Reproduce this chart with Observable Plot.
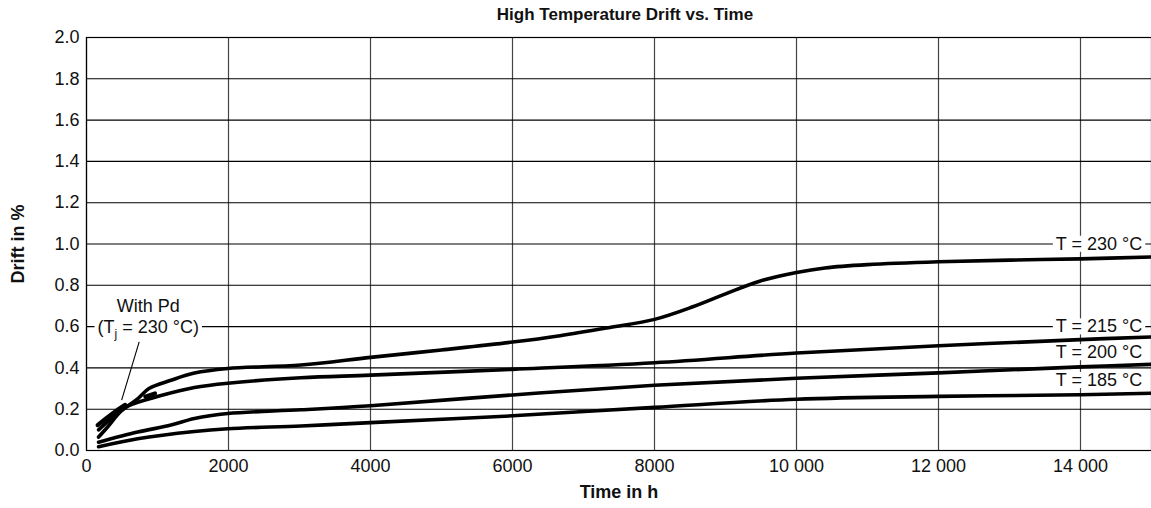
<!DOCTYPE html>
<html>
<head>
<meta charset="utf-8">
<script src="https://cdn.jsdelivr.net/npm/d3@7"></script>
<script src="https://cdn.jsdelivr.net/npm/@observablehq/plot@0.6"></script>
<style>
  html, body { margin: 0; padding: 0; background: #fff; }
  #chart svg { display: block; }
</style>
</head>
<body>
<div id="chart"></div>
<script>
// ---- data ----
const t230 = [170, 300, 485, 720, 880, 1190, 1520, 1990, 3020, 4000, 5000, 6000, 6670, 7370, 8000, 8540, 9010, 9480, 10000, 10400, 11000, 12000, 13000, 14000, 15000];
const d230 = [0.065, 0.115, 0.19, 0.25, 0.30, 0.34, 0.375, 0.397, 0.414, 0.451, 0.487, 0.525, 0.556, 0.596, 0.635, 0.696, 0.76, 0.82, 0.862, 0.884, 0.9, 0.914, 0.922, 0.928, 0.937];

const t215 = [170, 400, 580, 1050, 1520, 1990, 3020, 4000, 6000, 8000, 10000, 12000, 14000, 15000];
const d215 = [0.10, 0.17, 0.215, 0.266, 0.305, 0.326, 0.352, 0.365, 0.393, 0.425, 0.472, 0.507, 0.537, 0.55];

const t200 = [170, 720, 1190, 1520, 1990, 3020, 4000, 6000, 8000, 10000, 12000, 14000, 15000];
const d200 = [0.04, 0.089, 0.123, 0.155, 0.179, 0.197, 0.217, 0.269, 0.316, 0.35, 0.376, 0.405, 0.417];

const t185 = [170, 720, 1520, 1990, 3020, 4000, 6000, 8000, 10000, 12000, 14000, 15000];
const d185 = [0.018, 0.057, 0.092, 0.105, 0.119, 0.135, 0.168, 0.209, 0.248, 0.262, 0.27, 0.277];

const tPd = [157, 579, 836, 1000];
const dPd = [0.123, 0.228, 0.262, 0.28];

const xTicks = [0, 2000, 4000, 6000, 8000, 10000, 12000, 14000];
const yTicks = [0, 0.2, 0.4, 0.6, 0.8, 1.0, 1.2, 1.4, 1.6, 1.8, 2.0];

const curveLabels = ["T = 230 °C", "T = 215 °C", "T = 200 °C", "T = 185 °C"];
const curveLabelY = [1.0, 0.6, 0.475, 0.34];
const curveLabelX = 14870;

const pdNoteText = ["With Pd", "(Tj = 230 °C)"];
const pdNoteX = [870, 870];
const pdNoteY = [0.70, 0.595];
const pdLeader = [{x1: 742, y1: 0.526, x2: 495, y2: 0.244}];

const titleText = "High Temperature Drift vs. Time";
const xLabel = "Time in h";
const yLabel = "Drift in %";

// ---- build rows ----
const mk = (ts, ds, s) => ts.map((t, i) => ({t, d: ds[i], s}));
const series = [
  ...mk(t230, d230, "230"),
  ...mk(t215, d215, "215"),
  ...mk(t200, d200, "200"),
  ...mk(t185, d185, "185")
];
const pdRows = mk(tPd, dPd, "pd");
const labelRows = curveLabels.map((text, i) => ({text, t: curveLabelX, d: curveLabelY[i]}));
const noteRows = pdNoteText.map((text, i) => ({text, t: pdNoteX[i], d: pdNoteY[i]}));

const fmtX = d => d >= 10000 ? d3.format(",")(d).replace(/,/g, " ") : String(d);
const FONT = "Liberation Sans, Arial, Helvetica, sans-serif";

const chart = Plot.plot({
  width: 1151,
  height: 508,
  marginTop: 37,
  marginBottom: 58,
  marginLeft: 86,
  marginRight: 0,
  style: {fontFamily: FONT, fontSize: "18px", color: "#111", background: "#fff"},
  x: {domain: [0, 15000], ticks: xTicks, tickFormat: fmtX, tickSize: 0, tickPadding: 9, label: null},
  y: {domain: [0, 2.0], ticks: yTicks, tickFormat: d3.format(".1f"), tickSize: 0, tickPadding: 7, label: null},
  marks: [
    Plot.gridX(xTicks, {stroke: "#444", strokeOpacity: 1, strokeWidth: 1.2}),
    Plot.gridY(yTicks, {stroke: "#000", strokeOpacity: 1, strokeWidth: 1.1}),
    Plot.frame({stroke: "#000", strokeWidth: 1.2}),
    Plot.axisX({ticks: xTicks, tickFormat: fmtX, tickSize: 0, tickPadding: 9, fontSize: 18, label: null}),
    Plot.axisY({ticks: yTicks, tickFormat: d3.format(".1f"), tickSize: 0, tickPadding: 7, fontSize: 18, label: null}),
    Plot.text(labelRows, {x: "t", y: "d", text: "text", textAnchor: "end", fontSize: 18, fill: "#111"}),
    Plot.text(noteRows, {x: "t", y: "d", text: "text", fontSize: 18, fill: "#111"}),
    Plot.link(pdLeader, {x1: "x1", y1: "y1", x2: "x2", y2: "y2", stroke: "#000", strokeWidth: 1.1}),
    Plot.line(series, {x: "t", y: "d", z: "s", stroke: "#000", strokeWidth: 3.6, curve: "catmull-rom"}),
    Plot.line(pdRows, {x: "t", y: "d", stroke: "#000", strokeWidth: 4.2, curve: "catmull-rom", strokeDasharray: "34,22,10,1000", strokeLinecap: "round"}),
    Plot.text([titleText], {frameAnchor: "top", lineAnchor: "middle", dy: -23, dx: 6, fontSize: 17, fontWeight: "bold", fill: "#111"}),
    Plot.text([xLabel], {frameAnchor: "bottom", lineAnchor: "middle", dy: 42, fontSize: 18, fontWeight: "bold", fill: "#111"}),
    Plot.text([yLabel], {frameAnchor: "left", textAnchor: "middle", lineAnchor: "middle", dx: -68, rotate: -90, fontSize: 18, fontWeight: "bold", fill: "#111"})
  ]
});

document.getElementById("chart").append(chart);

const ns = "http://www.w3.org/2000/svg";
const boxTexts = new Set([...curveLabels, ...pdNoteText]);
chart.querySelectorAll("text").forEach(el => {
  if (!boxTexts.has(el.textContent)) return;
  // subscript j in "(Tj = 230 °C)"
  if (el.textContent === "(Tj = 230 °C)") {
    el.textContent = "";
    const a = document.createElementNS(ns, "tspan"); a.textContent = "(T";
    const b = document.createElementNS(ns, "tspan"); b.textContent = "j"; b.setAttribute("dy", "5"); b.setAttribute("font-size", "12");
    const c = document.createElementNS(ns, "tspan"); c.textContent = " = 230 °C)"; c.setAttribute("dy", "-5");
    el.append(a, b, c);
  }
  // white box behind annotation text so grid lines break around it
  const bb = el.getBBox();
  const r = document.createElementNS(ns, "rect");
  r.setAttribute("x", bb.x - 3);
  r.setAttribute("y", bb.y + 2);
  r.setAttribute("width", bb.width + 6);
  r.setAttribute("height", bb.height - 4);
  r.setAttribute("fill", "#fff");
  r.setAttribute("stroke", "none");
  if (el.getAttribute("transform")) r.setAttribute("transform", el.getAttribute("transform"));
  el.parentNode.insertBefore(r, el);
});
</script>
</body>
</html>
